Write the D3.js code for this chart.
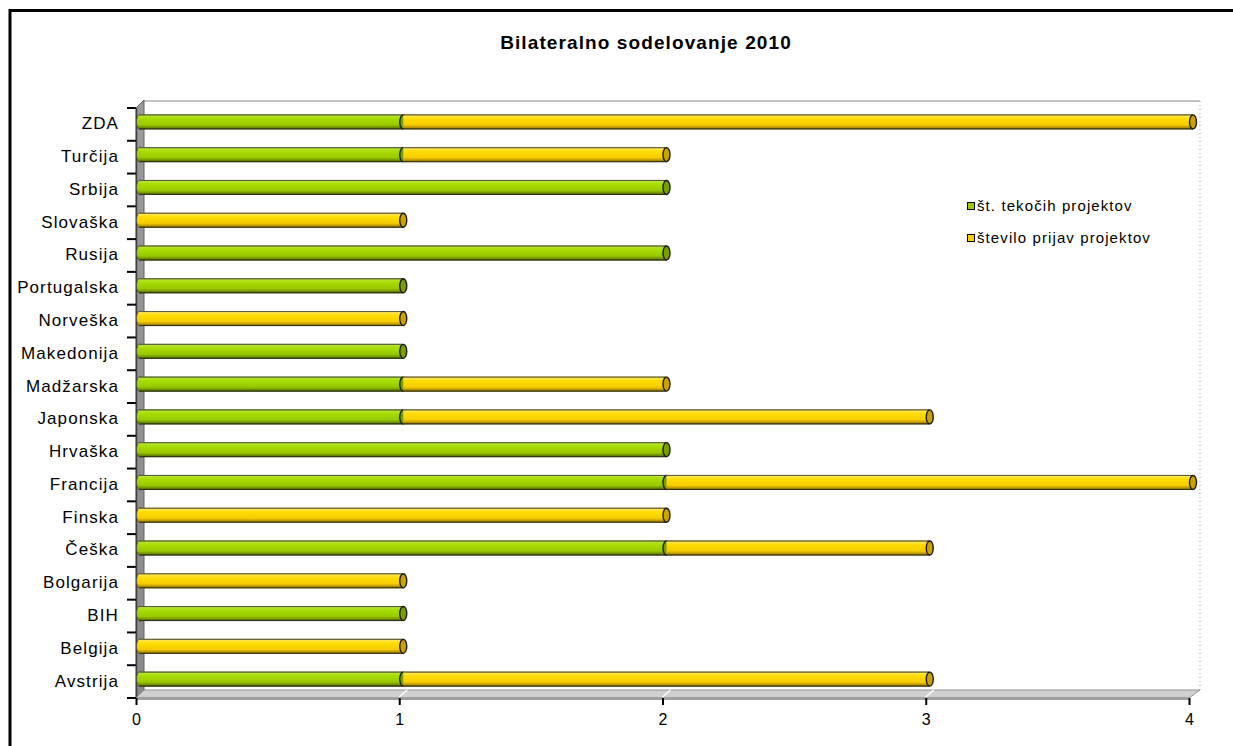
<!DOCTYPE html>
<html>
<head>
<meta charset="utf-8">
<script src="https://cdn.jsdelivr.net/npm/d3@7"></script>
<style>
  body { margin: 0; background: #fff; }
  text { font-family: "Liberation Sans", Arial, sans-serif; fill: #000; }
</style>
</head>
<body>
<div id="chart"></div>
<script>
// data (listed top to bottom as drawn)
var countries = ["ZDA", "Turčija", "Srbija", "Slovaška", "Rusija", "Portugalska", "Norveška",
  "Makedonija", "Madžarska", "Japonska", "Hrvaška", "Francija", "Finska", "Češka",
  "Bolgarija", "BIH", "Belgija", "Avstrija"];
var tekoci = [1, 1, 2, 0, 2, 1, 0, 1, 1, 1, 2, 2, 0, 2, 0, 1, 0, 1];
var prijave = [3, 1, 0, 1, 0, 0, 1, 0, 1, 2, 0, 2, 2, 1, 1, 0, 1, 2];
var seriesNames = ["št. tekočih projektov", "število prijav projektov"];
var xTicks = [0, 1, 2, 3, 4];

function chart() {
  var svgWidth = 1233, svgHeight = 746;
  var depth = 8;

  var svg = d3.select("#chart").append("svg")
    .attr("width", svgWidth)
    .attr("height", svgHeight);

  var defs = svg.append("defs");
  function cyl(id, stops) {
    var g = defs.append("linearGradient").attr("id", id)
      .attr("x1", 0).attr("y1", 0).attr("x2", 0).attr("y2", 1);
    stops.forEach(s => g.append("stop").attr("offset", s[0]).attr("stop-color", s[1]));
  }
  cyl("gGreen", [[0, "#5a7800"], [0.1, "#b4e430"], [0.3, "#a8dc00"], [0.7, "#98c800"], [0.87, "#6e9000"], [1, "#384a00"]]);
  cyl("gYellow", [[0, "#967a00"], [0.1, "#ffe650"], [0.3, "#ffdc00"], [0.7, "#f6cc00"], [0.87, "#b89400"], [1, "#6a5400"]]);
  cyl("gWall", [[0, "#9a9a9a"], [1, "#8a8a8a"]]);

  // outer frame
  svg.append("rect").attr("x", 10).attr("y", 10.5)
    .attr("width", 1240).attr("height", 760)
    .attr("fill", "none").attr("stroke", "#000").attr("stroke-width", 3);

  svg.append("text")
    .attr("x", 646).attr("y", 49)
    .attr("text-anchor", "middle")
    .attr("font-size", "19px").attr("font-weight", "bold")
    .attr("letter-spacing", "1.1px")
    .text("Bilateralno sodelovanje 2010");

  var x = d3.scaleLinear().domain([0, 4]).range([136, 1189]);
  var y = d3.scaleBand().domain(countries).range([108, 698]);

  var plotTop = 108, plotBottom = 698;
  var x0 = x(0), x4 = x(4);

  // back wall edges
  svg.append("line").attr("x1", x0 + depth).attr("y1", plotTop - depth + 1)
    .attr("x2", x4 + depth + 3).attr("y2", plotTop - depth + 1)
    .attr("stroke", "#b0b0b0").attr("stroke-width", 1.5);
  svg.append("line").attr("x1", x4 + depth + 3).attr("y1", plotTop - depth + 1)
    .attr("x2", x4 + depth + 3).attr("y2", plotBottom - depth)
    .attr("stroke", "#a0a0a0").attr("stroke-dasharray", "1,3");

  // left wall
  svg.append("polygon")
    .attr("points", [[x0, plotTop], [x0 + depth, plotTop - depth], [x0 + depth, plotBottom - depth], [x0, plotBottom]].join(" "))
    .attr("fill", "url(#gWall)").attr("stroke", "#606060").attr("stroke-width", 1);
  svg.append("line").attr("x1", x0 + 0.5).attr("y1", plotTop).attr("x2", x0 + 0.5).attr("y2", plotBottom)
    .attr("stroke", "#404040").attr("stroke-width", 1.5);

  // floor
  svg.append("polygon")
    .attr("points", [[x0, plotBottom], [x0 + depth, plotBottom - depth], [x4 + depth + 3, plotBottom - depth], [x4, plotBottom]].join(" "))
    .attr("fill", "#d0d0d0").attr("stroke", "#909090").attr("stroke-width", 1);
  svg.append("rect").attr("x", x0).attr("y", plotBottom - 1)
    .attr("width", x4 - x0).attr("height", 3).attr("fill", "#a0a0a0");
  svg.selectAll(".floorGrid").data(xTicks.slice(1, 4)).enter().append("line")
    .attr("x1", d => x(d)).attr("y1", plotBottom - 1)
    .attr("x2", d => x(d) + depth).attr("y2", plotBottom - depth)
    .attr("stroke", "#fff").attr("stroke-width", 1.5);

  // axes
  var xAxis = d3.axisBottom(x).tickValues(xTicks).tickFormat(d3.format("d")).tickSize(7).tickPadding(6);
  var gx = svg.append("g").attr("transform", `translate(0, ${plotBottom})`).call(xAxis);
  gx.select(".domain").remove();
  gx.selectAll("line").attr("stroke", "#000").attr("stroke-width", 2);
  gx.selectAll("text").attr("font-size", "16px").attr("font-family", "Liberation Sans, Arial, sans-serif")
    .attr("fill", "#000").attr("dy", "0.9em");

  var gy = svg.append("g").attr("transform", `translate(${x0}, 0)`);
  var bounds = countries.map(c => y(c)).concat([plotBottom]);
  gy.selectAll("line").data(bounds).enter().append("line")
    .attr("x1", -9).attr("x2", 0)
    .attr("y1", d => d).attr("y2", d => d)
    .attr("stroke", "#000").attr("stroke-width", 2);
  gy.selectAll("text").data(countries).enter().append("text")
    .attr("x", -17)
    .attr("y", d => y(d) + y.bandwidth() / 2 - 1)
    .attr("dy", "0.35em")
    .attr("text-anchor", "end")
    .attr("font-size", "17px")
    .attr("letter-spacing", "1.1px")
    .text(d => d);

  // stacked cylinders
  var rows = countries.map((c, i) => ({ c: c, v: [tekoci[i], prijave[i]] }));
  var segs = [];
  rows.forEach(r => {
    var start = 0;
    r.v.forEach((v, k) => {
      if (v > 0) segs.push({ c: r.c, k: k, s: start, e: start + v });
      start += v;
    });
  });
  var barH = 15, shiftX = depth / 2, shiftY = 2.5;
  var fills = ["url(#gGreen)", "url(#gYellow)"];
  var caps = ["#7a9e00", "#c9a400"];
  var bars = svg.append("g");
  segs.forEach(d => {
    var cy = y(d.c) + y.bandwidth() / 2 - shiftY;
    var xs = x(d.s) + shiftX, xe = x(d.e) + shiftX;
    if (d.s === 0) {
      bars.append("ellipse").attr("cx", xs).attr("cy", cy).attr("rx", 3.5).attr("ry", barH / 2)
        .attr("fill", fills[d.k]).attr("stroke", "#444").attr("stroke-width", 0.8);
    }
    bars.append("rect").attr("x", xs).attr("y", cy - barH / 2)
      .attr("width", xe - xs).attr("height", barH)
      .attr("fill", fills[d.k]);
    bars.append("line").attr("x1", xs).attr("x2", xe).attr("y1", cy - barH / 2 + 0.5).attr("y2", cy - barH / 2 + 0.5)
      .attr("stroke", "#5a5a40").attr("stroke-width", 1);
    bars.append("line").attr("x1", xs).attr("x2", xe).attr("y1", cy + barH / 2 - 0.5).attr("y2", cy + barH / 2 - 0.5)
      .attr("stroke", "#2e2e18").attr("stroke-width", 1);
    bars.append("ellipse").attr("cx", xe).attr("cy", cy).attr("rx", 3.5).attr("ry", barH / 2 - 0.5)
      .attr("fill", caps[d.k]).attr("stroke", "#1a1a1a").attr("stroke-width", 1.4);
  });

  // legend
  var legend = svg.append("g").attr("transform", "translate(967, 199)");
  var lg = legend.selectAll("g").data(seriesNames).enter().append("g")
    .attr("transform", (d, i) => `translate(0, ${i * 32})`);
  lg.append("rect").attr("x", 0.5).attr("y", 3.5).attr("width", 7).attr("height", 7)
    .attr("fill", (d, i) => ["#99cc00", "#ffcc00"][i])
    .attr("stroke", "#000").attr("stroke-width", 1);
  lg.append("text").attr("x", 10).attr("y", 7).attr("dy", "0.35em")
    .attr("font-size", "15px").attr("letter-spacing", "1.1px")
    .text(d => d);
}

chart();
</script>
</body>
</html>
